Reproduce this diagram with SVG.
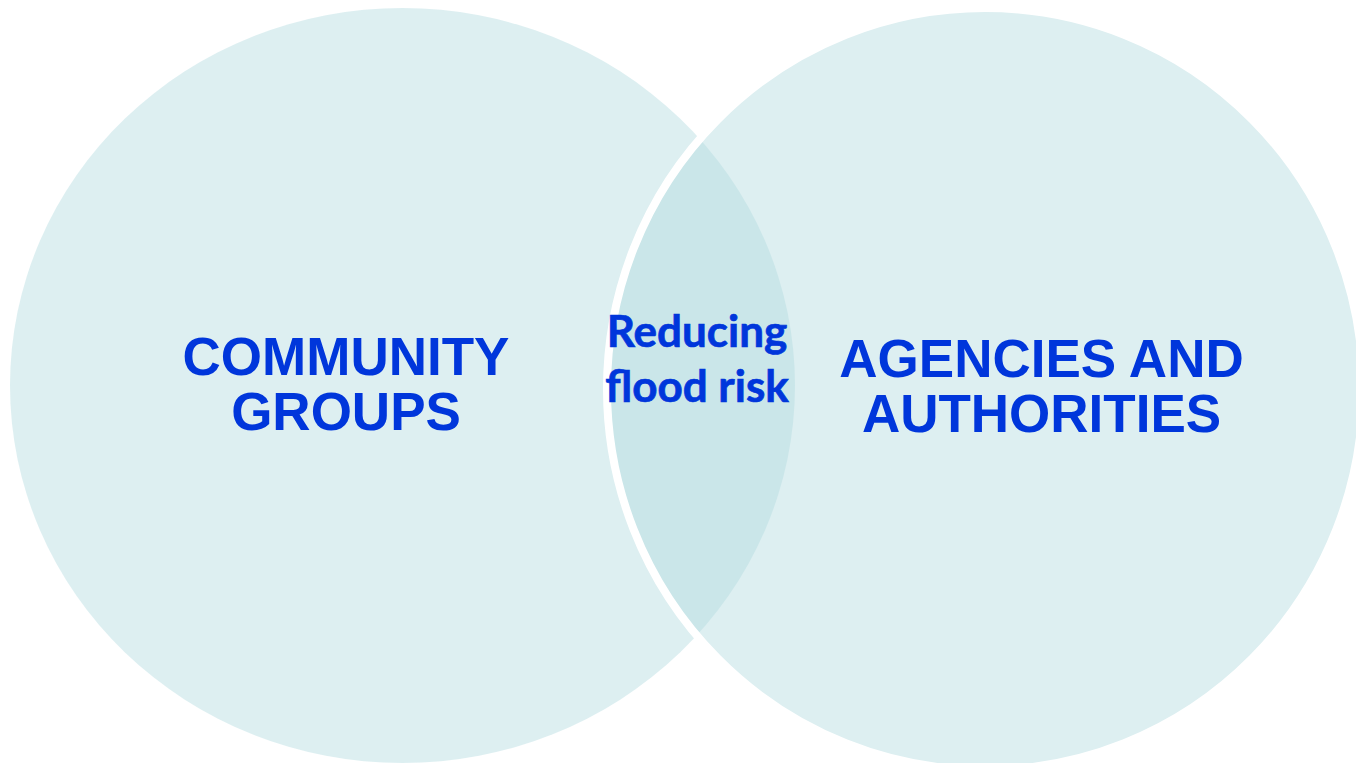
<svg xmlns="http://www.w3.org/2000/svg" width="1356" height="763" viewBox="0 0 1356 763">
  <style>
    .circle { fill: #B4DCE1; fill-opacity: 0.45; }
    .right { stroke: #FFFFFF; stroke-width: 8; }
    .big { font-family: "Liberation Sans", Arial, sans-serif; font-weight: bold; font-size: 53px; fill: #0036DB; text-anchor: middle; }
    .mid { font-family: Lato, "Noto Sans", sans-serif; font-weight: bold; font-size: 44px; fill: #0036DB; stroke: #0036DB; stroke-width: 0.7; text-anchor: middle; }
  </style>
  <rect x="0" y="0" width="1356" height="763" fill="#FFFFFF"/>
  <g id="community-groups">
    <ellipse class="circle" cx="402.5" cy="385.5" rx="392.5" ry="377.5"/>
  </g>
  <g id="agencies-authorities">
    <ellipse class="circle right" cx="985" cy="389" rx="378" ry="381"/>
  </g>
  <g id="labels">
    <text class="big" x="346" y="375">COMMUNITY</text>
    <text class="big" x="346" y="430">GROUPS</text>
    <text class="big" x="1041.5" y="377">AGENCIES AND</text>
    <text class="big" x="1041.5" y="432">AUTHORITIES</text>
  </g>
  <g id="overlap">
    <text class="mid" x="697" y="347">Reducing</text>
    <text class="mid" x="697" y="402">flood risk</text>
  </g>
</svg>
